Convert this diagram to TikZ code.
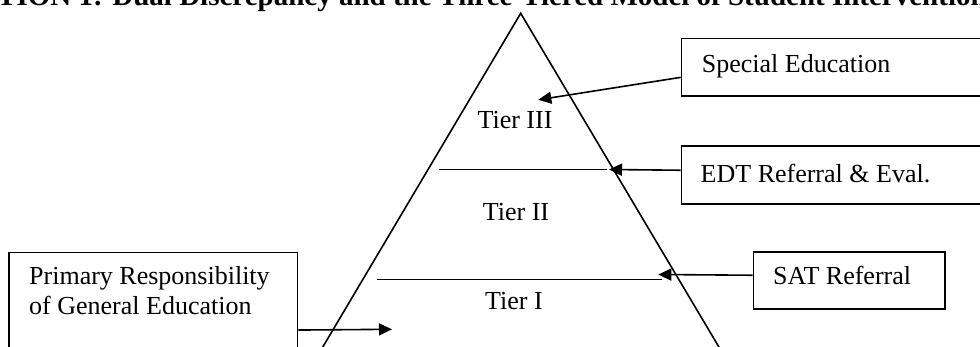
\documentclass[tikz,border=0pt]{standalone}
\usepackage{fontspec}
\setmainfont{Liberation Serif}
\usetikzlibrary{arrows.meta}
\begin{document}
\begin{tikzpicture}[x=1pt,y=-1pt,
  ln/.style={line width=1.6pt},
  arr/.style={line width=1.6pt,-{Triangle[length=13pt,width=12pt]}},
  bx/.style={draw,line width=1.6pt,inner sep=0pt,anchor=north west},
  lbl/.style={font=\fontsize{26}{30}\selectfont,inner sep=0pt,anchor=base west},
  tier/.style={font=\fontsize{26}{30}\selectfont,inner sep=0pt,anchor=base},
]
\useasboundingbox (0,0) rectangle (980,347);
\clip (0,0) rectangle (980,347);

% title (cut off at top)
\node[font=\fontsize{29}{30}\selectfont\bfseries,inner sep=0pt,anchor=base west] (title) at (-3,6)
  {TION 1: Dual Discrepancy and the Three-Tiered Model of Student Intervention};

% pyramid
\coordinate (apex) at (520.7,13.3);
\coordinate (bl) at (303.2,380);
\coordinate (br) at (738.5,380);
\draw[ln] (bl) -- (apex) -- (br);

% tier separators
\coordinate (l1a) at (439,169.5);
\coordinate (l1b) at (607,169.5);
\draw[ln] (l1a) -- (l1b);
\coordinate (l2a) at (376.7,279.5);
\coordinate (l2b) at (662,279.5);
\draw[ln] (l2a) -- (l2b);

% tier labels
\node[tier] (t3) at (515,128.3) {Tier III};
\node[tier] (t2) at (516,221) {Tier II};
\node[tier] (t1) at (514,310) {Tier I};

% boxes
\node[bx,minimum width=320pt,minimum height=57.3pt] (sped) at (680.7,37.7) {};
\node[lbl] (spedt) at (701.7,73) {Special Education};

\node[bx,minimum width=320pt,minimum height=58.3pt] (edt) at (680.7,145) {};
\node[lbl] (edtt) at (700.5,182.3) {EDT Referral \& Eval.};

\node[bx,minimum width=191.3pt,minimum height=57.3pt] (sat) at (752.7,251) {};
\node[lbl] (satt) at (773,285) {SAT Referral};

\node[bx,minimum width=288.4pt,minimum height=108.3pt] (prim) at (8.3,251.7) {};
\node[lbl] (primt1) at (29,285) {Primary Responsibility};
\node[lbl] (primt2) at (29,315) {of General Education};

% arrows
\coordinate (tipS) at (538.3,99.8);
\coordinate (tipE) at (609,169.5);
\coordinate (tipA) at (658.3,274.5);
\coordinate (tipP) at (392,329.3);
\draw[arr] ([yshift=-10.2pt]sped.west) -- (tipS);
\draw[arr] ([yshift=4.7pt]edt.west) -- (tipE);
\draw[arr] ([yshift=5.2pt]sat.west) -- (tipA);
\draw[arr] ([yshift=-23.4pt]prim.east) -- (tipP);
\end{tikzpicture}
\end{document}
